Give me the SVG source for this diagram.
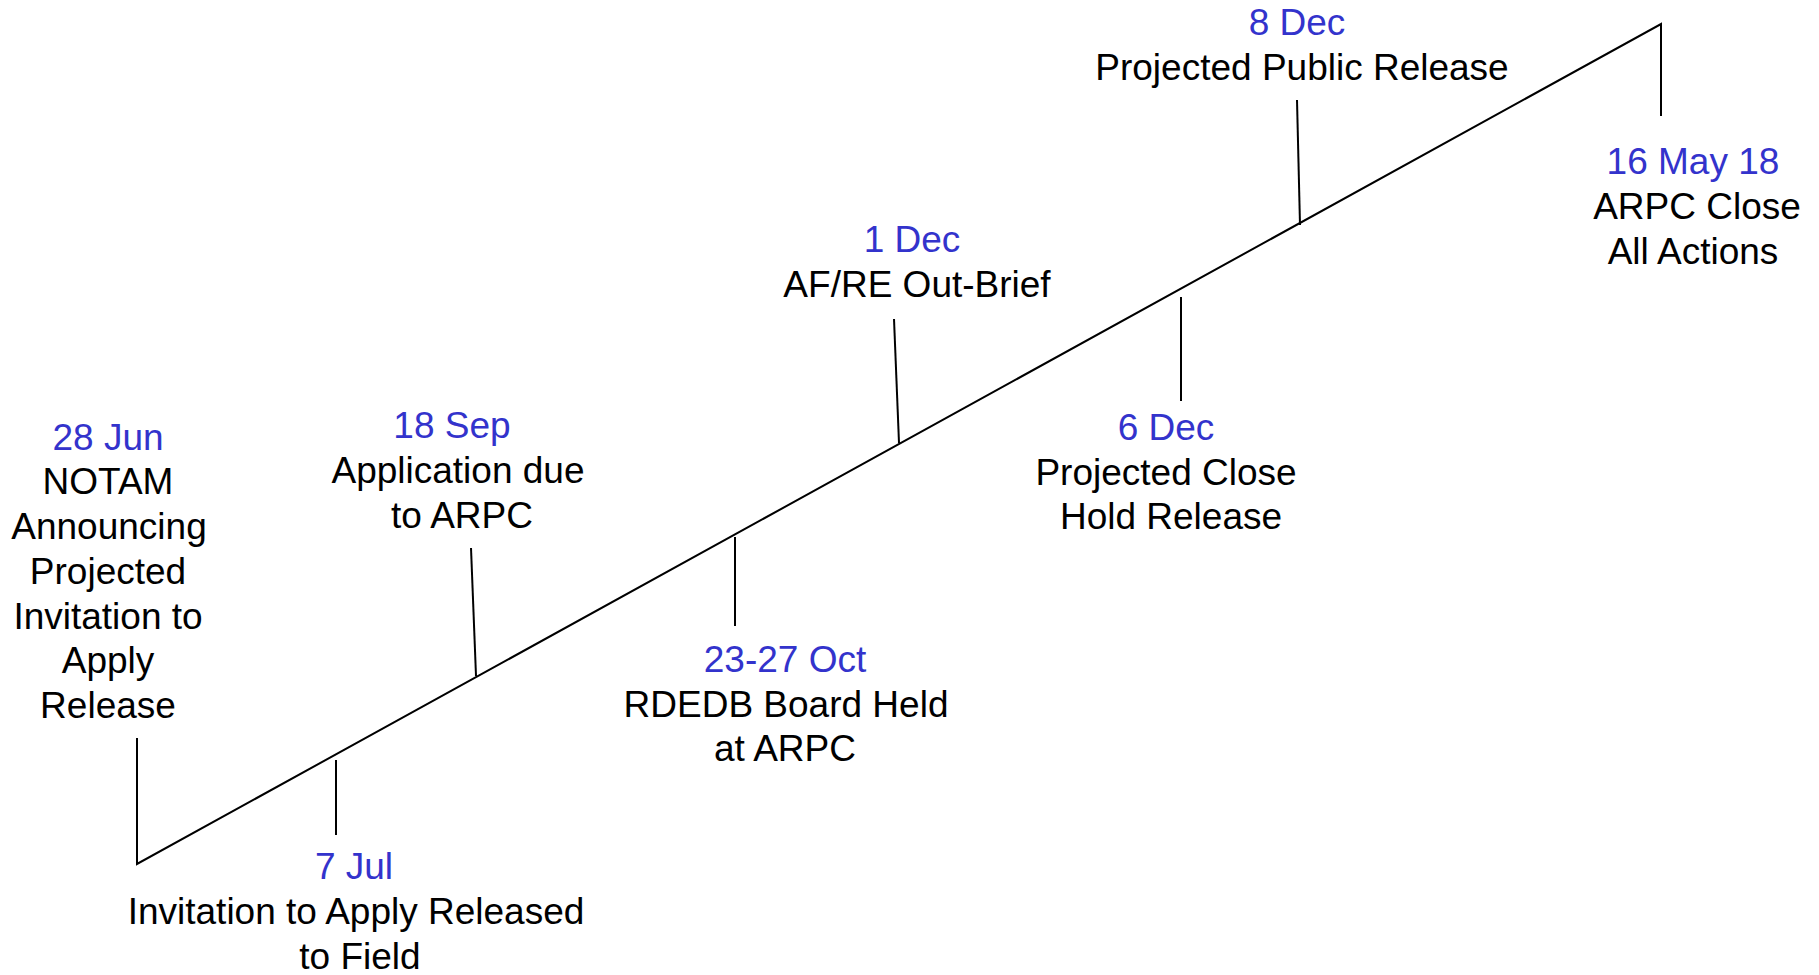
<svg xmlns="http://www.w3.org/2000/svg" width="1819" height="975" viewBox="0 0 1819 975">
<style>
text{font-family:"Liberation Sans",Arial,sans-serif;font-size:37px;text-anchor:middle;fill:#000}
.d{fill:#3333cc}
.l{stroke:#000;stroke-width:2;fill:none}
</style>
<rect width="1819" height="975" fill="#fff"/>
<g id="connectors">
<polyline class="l" points="137,738 137,864 1661,24 1661,116"/>
<line class="l" x1="336" y1="760" x2="336" y2="835"/>
<line class="l" x1="471" y1="548" x2="476" y2="676"/>
<line class="l" x1="735" y1="537" x2="735" y2="626"/>
<line class="l" x1="894" y1="319" x2="899" y2="443"/>
<line class="l" x1="1181" y1="297" x2="1181" y2="401"/>
<line class="l" x1="1297" y1="100" x2="1300" y2="225"/>
</g>
<g id="n28jun">
<text class="d" x="108" y="450">28 Jun</text>
<text x="108" y="494">NOTAM</text>
<text x="109" y="539">Announcing</text>
<text x="108" y="584">Projected</text>
<text x="108" y="629">Invitation to</text>
<text x="108" y="673">Apply</text>
<text x="108" y="718">Release</text>
</g>
<g id="n7jul">
<text class="d" x="354" y="879">7 Jul</text>
<text x="356" y="924">Invitation to Apply Released</text>
<text x="360" y="969">to Field</text>
</g>
<g id="n18sep">
<text class="d" x="452" y="438">18 Sep</text>
<text x="458" y="483">Application due</text>
<text x="462" y="528">to ARPC</text>
</g>
<g id="n23oct">
<text class="d" x="785" y="672">23-27 Oct</text>
<text x="786" y="717">RDEDB Board Held</text>
<text x="785" y="761">at ARPC</text>
</g>
<g id="n1dec">
<text class="d" x="912" y="252">1 Dec</text>
<text x="917" y="297">AF/RE Out-Brief</text>
</g>
<g id="n6dec">
<text class="d" x="1166" y="440">6 Dec</text>
<text x="1166" y="485">Projected Close</text>
<text x="1171" y="529">Hold Release</text>
</g>
<g id="n8dec">
<text class="d" x="1297" y="35">8 Dec</text>
<text x="1302" y="80">Projected Public Release</text>
</g>
<g id="n16may">
<text class="d" x="1693" y="174">16 May 18</text>
<text x="1697" y="219">ARPC Close</text>
<text x="1693" y="264">All Actions</text>
</g>
</svg>
